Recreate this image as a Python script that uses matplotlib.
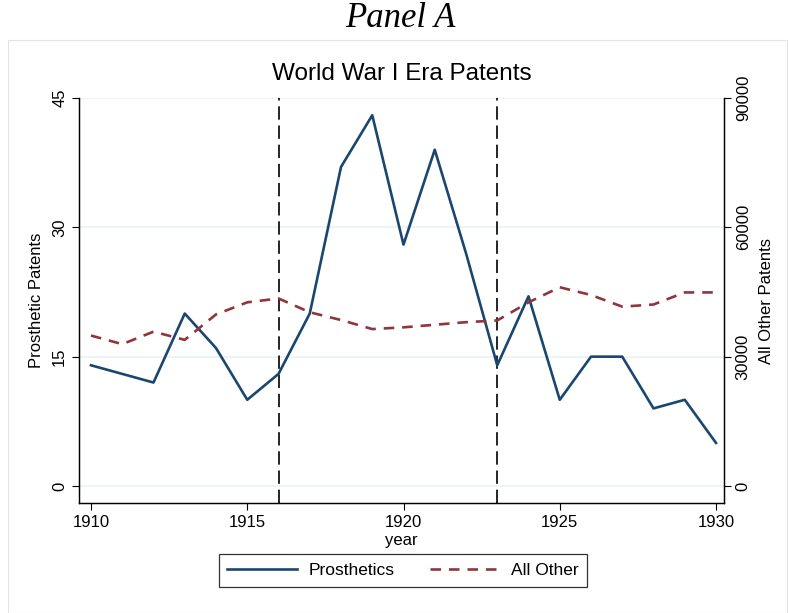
import matplotlib.pyplot as plt
from matplotlib.patches import Rectangle

plt.rcParams['font.family'] = ['Liberation Sans', 'DejaVu Sans']

# Patent counts by year
years = list(range(1910, 1931))
prosthetics = [14, 13, 12, 20, 16, 10, 13, 20, 37, 43, 28, 39, 27, 14, 22, 10, 15, 15, 9, 10, 5]
all_other = [34900, 32900, 35800, 33900, 39800, 42600, 43500, 40300, 38500, 36400, 36800,
             37400, 38000, 38400, 42600, 46100, 44300, 41600, 42100, 44900, 44900]
war_years = [1916, 1923]

left_ticks = [0, 15, 30, 45]
right_ticks = [0, 30000, 60000, 90000]
year_ticks = [1910, 1915, 1920, 1925, 1930]

navy = '#1a476f'
maroon = '#90353b'

fig = plt.figure(figsize=(7.88, 6.13), dpi=100)
fig.patch.set_facecolor('white')

# light frame around the graph region
fig.patches.append(Rectangle((8 / 788, 0.0), 779 / 788, 573 / 613, transform=fig.transFigure,
                             fill=False, edgecolor='#e4e4e4', linewidth=0.8))

fig.text(0.508, 0.970, 'Panel A', ha='center', va='center', fontsize=25,
         family='Liberation Serif', style='italic')

ax = fig.add_axes([79 / 788, 110 / 613, 645 / 788, 405 / 613])
ax2 = ax.twinx()

ymin = -17 / (388 / 45)
ax.set_ylim(ymin, 45)
ax2.set_ylim(ymin * 2000, 90000)
ax.set_xlim(1910 - 12 / 31.25, 1930 + 8 / 31.25)

for y in left_ticks:
    ax.axhline(y, color='#eaf2f3', linewidth=1.2, zorder=0)

for yr in war_years:
    ax.axvline(yr, color='black', linewidth=1.2, dashes=(8, 3.5), zorder=1)

l1, = ax.plot(years, prosthetics, color=navy, linewidth=1.9, zorder=3)
l2, = ax2.plot(years, all_other, color=maroon, linewidth=1.9, dashes=(4, 3), zorder=3)

ax.set_yticks(left_ticks)
ax.set_yticklabels([str(v) for v in left_ticks], rotation=90, va='center')
ax2.set_yticks(right_ticks)
ax2.set_yticklabels([str(v) for v in right_ticks], rotation=90, va='center')
ax.set_xticks(year_ticks)

for a in (ax, ax2):
    a.tick_params(direction='out', length=5, width=0.8, labelsize=12, color='black')
    a.spines['top'].set_visible(False)
    for s in ('left', 'right', 'bottom'):
        a.spines[s].set_linewidth(0.9)

ax.set_xlabel('year', fontsize=12, labelpad=2)
ax.set_ylabel('Prosthetic Patents', fontsize=12, labelpad=6)
ax2.set_ylabel('All Other Patents', fontsize=12, rotation=90, labelpad=6)
ax.set_title('World War I Era Patents', fontsize=17.5, pad=13)

leg = fig.legend([l1, l2], ['Prosthetics', 'All Other'], loc='center',
                 bbox_to_anchor=(403 / 788, 1 - 570.5 / 613), ncol=2, fontsize=12.5,
                 frameon=True, fancybox=False, handlelength=4.0, handletextpad=0.7,
                 columnspacing=2.0, borderpad=0.5)
leg.get_frame().set_edgecolor('black')
leg.get_frame().set_linewidth(0.9)

plt.savefig('out.png', dpi=100)
